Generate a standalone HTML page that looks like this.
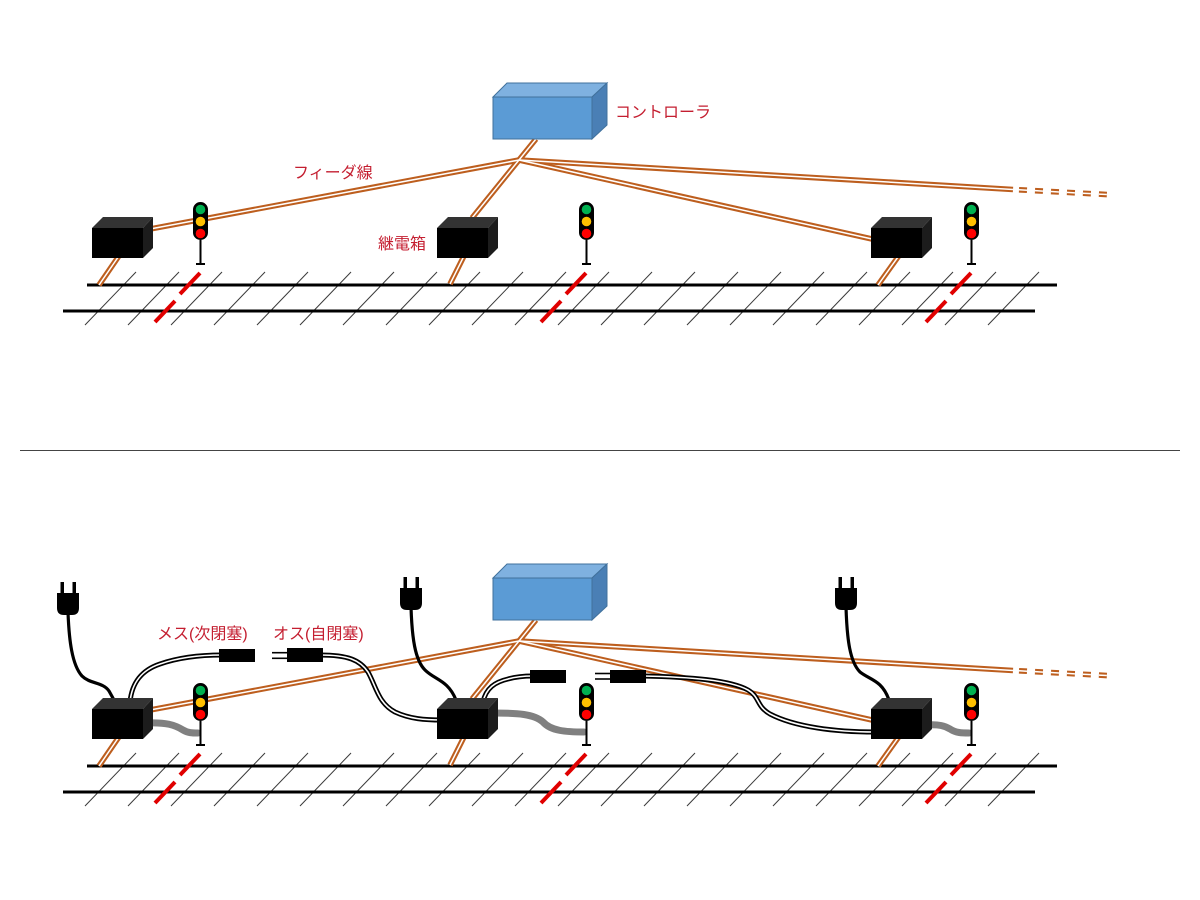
<!DOCTYPE html>
<html><head><meta charset="utf-8"><style>
html,body{margin:0;padding:0;background:#fff;}
svg{display:block;}
text{font-family:"Liberation Sans","Noto Sans CJK JP",sans-serif;font-size:16px;fill:#c41e30;}
</style></head><body>
<svg width="1200" height="900" viewBox="0 0 1200 900" xmlns="http://www.w3.org/2000/svg">
<rect width="1200" height="900" fill="#fff"/>

<!-- ================= TOP DIAGRAM ================= -->
<g>
  <g stroke="#3a3a3a" stroke-width="1">
    <line x1="85" y1="325" x2="136" y2="272"/><line x1="128" y1="325" x2="179" y2="272"/>
    <line x1="171" y1="325" x2="222" y2="272"/><line x1="214" y1="325" x2="265" y2="272"/>
    <line x1="257" y1="325" x2="308" y2="272"/><line x1="300" y1="325" x2="351" y2="272"/>
    <line x1="343" y1="325" x2="394" y2="272"/><line x1="386" y1="325" x2="437" y2="272"/>
    <line x1="429" y1="325" x2="480" y2="272"/><line x1="472" y1="325" x2="523" y2="272"/>
    <line x1="515" y1="325" x2="566" y2="272"/><line x1="558" y1="325" x2="609" y2="272"/>
    <line x1="601" y1="325" x2="652" y2="272"/><line x1="644" y1="325" x2="695" y2="272"/>
    <line x1="687" y1="325" x2="738" y2="272"/><line x1="730" y1="325" x2="781" y2="272"/>
    <line x1="773" y1="325" x2="824" y2="272"/><line x1="816" y1="325" x2="867" y2="272"/>
    <line x1="859" y1="325" x2="910" y2="272"/><line x1="902" y1="325" x2="953" y2="272"/>
    <line x1="945" y1="325" x2="996" y2="272"/><line x1="988" y1="325" x2="1039" y2="272"/>
  </g>
  <line x1="87" y1="285" x2="1057" y2="285" stroke="#000" stroke-width="3"/>
  <line x1="63" y1="311" x2="1035" y2="311" stroke="#000" stroke-width="3"/>
  <g stroke="#e00000" stroke-width="4">
    <line x1="200" y1="273" x2="180" y2="294"/><line x1="175" y1="301" x2="155" y2="322"/>
    <line x1="586" y1="273" x2="566" y2="294"/><line x1="561" y1="301" x2="541" y2="322"/>
    <line x1="971" y1="273" x2="951" y2="294"/><line x1="946" y1="301" x2="926" y2="322"/>
  </g>
  <!-- feeders -->
  <g fill="none" stroke="#bd5e1e" stroke-width="5.6">
    <path d="M536,139 L472,218"/>
    <path d="M519,160 L150,229"/>
    <path d="M519,160 L872,239"/>
    <path d="M519,160 L1013,189.5"/>
    <path d="M123,250 L99,285"/>
    <path d="M466,252 L450,284"/>
    <path d="M903,250 L878,285"/>
    <path d="M1019,189.8 L1108,194.6" stroke-dasharray="8 8"/>
  </g>
  <g fill="none" stroke="#fff" stroke-width="1.5">
    <path d="M536,139 L472,218"/>
    <path d="M519,160 L150,229"/>
    <path d="M519,160 L872,239"/>
    <path d="M519,160 L1013,189.5"/>
    <path d="M123,250 L99,285"/>
    <path d="M466,252 L450,284"/>
    <path d="M903,250 L878,285"/>
    <path d="M1019,189.8 L1108,194.6" stroke-dasharray="8 8"/>
  </g>
  <!-- controller -->
  <g stroke="#41719c" stroke-width="1">
    <rect x="493" y="97" width="99" height="42" fill="#5b9bd5"/>
    <polygon points="493,97 507,83 607,83 592,97" fill="#7fb1e0"/>
    <polygon points="592,97 607,83 607,125 592,139" fill="#4a7fb5"/>
  </g>
  <!-- relay boxes -->
  <g>
    <rect x="92" y="228" width="51" height="30" fill="#000"/>
    <polygon points="92,228 103,217 153,217 143,228" fill="#333"/>
    <polygon points="143,228 153,217 153,248 143,258" fill="#1c1c1c"/>
    <rect x="437" y="228" width="51" height="30" fill="#000"/>
    <polygon points="437,228 448,217 498,217 488,228" fill="#333"/>
    <polygon points="488,228 498,217 498,248 488,258" fill="#1c1c1c"/>
    <rect x="871" y="228" width="51" height="30" fill="#000"/>
    <polygon points="871,228 882,217 932,217 922,228" fill="#333"/>
    <polygon points="922,228 932,217 932,248 922,258" fill="#1c1c1c"/>
  </g>
  <!-- signals -->
  <g>
    <rect x="193" y="202" width="15" height="38" rx="7.5" fill="#000"/>
    <circle cx="200.5" cy="209.5" r="4.8" fill="#00b050"/>
    <circle cx="200.5" cy="221.5" r="4.8" fill="#ffc000"/>
    <circle cx="200.5" cy="233.5" r="4.8" fill="#ff0000"/>
    <line x1="200.5" y1="240" x2="200.5" y2="264" stroke="#000" stroke-width="2"/>
    <line x1="196" y1="264" x2="205" y2="264" stroke="#000" stroke-width="2"/>

    <rect x="579" y="202" width="15" height="38" rx="7.5" fill="#000"/>
    <circle cx="586.5" cy="209.5" r="4.8" fill="#00b050"/>
    <circle cx="586.5" cy="221.5" r="4.8" fill="#ffc000"/>
    <circle cx="586.5" cy="233.5" r="4.8" fill="#ff0000"/>
    <line x1="586.5" y1="240" x2="586.5" y2="264" stroke="#000" stroke-width="2"/>
    <line x1="582" y1="264" x2="591" y2="264" stroke="#000" stroke-width="2"/>

    <rect x="964" y="202" width="15" height="38" rx="7.5" fill="#000"/>
    <circle cx="971.5" cy="209.5" r="4.8" fill="#00b050"/>
    <circle cx="971.5" cy="221.5" r="4.8" fill="#ffc000"/>
    <circle cx="971.5" cy="233.5" r="4.8" fill="#ff0000"/>
    <line x1="971.5" y1="240" x2="971.5" y2="264" stroke="#000" stroke-width="2"/>
    <line x1="967" y1="264" x2="976" y2="264" stroke="#000" stroke-width="2"/>
  </g>
  <text x="615" y="117.5">コントローラ</text>
  <text x="293" y="178">フィーダ線</text>
  <text x="378" y="249">継電箱</text>
</g>

<!-- divider -->
<line x1="20" y1="450.5" x2="1180" y2="450.5" stroke="#444" stroke-width="1"/>

<!-- ================= BOTTOM DIAGRAM ================= -->
<g transform="translate(0,481)">
  <g stroke="#3a3a3a" stroke-width="1">
    <line x1="85" y1="325" x2="136" y2="272"/><line x1="128" y1="325" x2="179" y2="272"/>
    <line x1="171" y1="325" x2="222" y2="272"/><line x1="214" y1="325" x2="265" y2="272"/>
    <line x1="257" y1="325" x2="308" y2="272"/><line x1="300" y1="325" x2="351" y2="272"/>
    <line x1="343" y1="325" x2="394" y2="272"/><line x1="386" y1="325" x2="437" y2="272"/>
    <line x1="429" y1="325" x2="480" y2="272"/><line x1="472" y1="325" x2="523" y2="272"/>
    <line x1="515" y1="325" x2="566" y2="272"/><line x1="558" y1="325" x2="609" y2="272"/>
    <line x1="601" y1="325" x2="652" y2="272"/><line x1="644" y1="325" x2="695" y2="272"/>
    <line x1="687" y1="325" x2="738" y2="272"/><line x1="730" y1="325" x2="781" y2="272"/>
    <line x1="773" y1="325" x2="824" y2="272"/><line x1="816" y1="325" x2="867" y2="272"/>
    <line x1="859" y1="325" x2="910" y2="272"/><line x1="902" y1="325" x2="953" y2="272"/>
    <line x1="945" y1="325" x2="996" y2="272"/><line x1="988" y1="325" x2="1039" y2="272"/>
  </g>
  <line x1="87" y1="285" x2="1057" y2="285" stroke="#000" stroke-width="3"/>
  <line x1="63" y1="311" x2="1035" y2="311" stroke="#000" stroke-width="3"/>
  <g stroke="#e00000" stroke-width="4">
    <line x1="200" y1="273" x2="180" y2="294"/><line x1="175" y1="301" x2="155" y2="322"/>
    <line x1="586" y1="273" x2="566" y2="294"/><line x1="561" y1="301" x2="541" y2="322"/>
    <line x1="971" y1="273" x2="951" y2="294"/><line x1="946" y1="301" x2="926" y2="322"/>
  </g>
  <g fill="none" stroke="#bd5e1e" stroke-width="5.6">
    <path d="M536,139 L472,218"/>
    <path d="M519,160 L150,229"/>
    <path d="M519,160 L872,239"/>
    <path d="M519,160 L1013,189.5"/>
    <path d="M123,250 L99,285"/>
    <path d="M466,252 L450,284"/>
    <path d="M903,250 L878,285"/>
    <path d="M1019,189.8 L1108,194.6" stroke-dasharray="8 8"/>
  </g>
  <g fill="none" stroke="#fff" stroke-width="1.5">
    <path d="M536,139 L472,218"/>
    <path d="M519,160 L150,229"/>
    <path d="M519,160 L872,239"/>
    <path d="M519,160 L1013,189.5"/>
    <path d="M123,250 L99,285"/>
    <path d="M466,252 L450,284"/>
    <path d="M903,250 L878,285"/>
    <path d="M1019,189.8 L1108,194.6" stroke-dasharray="8 8"/>
  </g>
  <!-- controller -->
  <g stroke="#41719c" stroke-width="1">
    <rect x="493" y="97" width="99" height="42" fill="#5b9bd5"/>
    <polygon points="493,97 507,83 607,83 592,97" fill="#7fb1e0"/>
    <polygon points="592,97 607,83 607,125 592,139" fill="#4a7fb5"/>
  </g>
</g>

<!-- bottom extras (absolute coords) -->
<!-- gray cords -->
<g fill="none" stroke="#808080" stroke-width="7" stroke-linecap="round">
  <path d="M146,723 C166,722 175,725 183,730 C188,733 192,733 198,733"/>
  <path d="M492,713 C518,713 534,714 543,722 C551,731 566,732 584,732"/>
  <path d="M926,725 C939,724 945,726 950,729 C956,733 962,733 969,733"/>
</g>
<!-- plug cords -->
<g fill="none" stroke="#000" stroke-width="3.2">
  <path d="M68,612 C69,640 72,665 82,676 C90,684 103,682 109,691 L114,700"/>
  <path d="M411,607 C412,638 415,660 425,670 C435,680 448,680 456,700"/>
  <path d="M846,607 C847,640 850,662 860,672 C870,680 882,680 889,700"/>
</g>
<!-- plugs -->
<g fill="#000">
  <rect x="60.5" y="582" width="3.5" height="11"/><rect x="72.5" y="582" width="3.5" height="11"/>
  <path d="M57,593 H79 V608 Q79,615 72,615 H64 Q57,615 57,608 Z"/>
  <rect x="403.5" y="577" width="3.5" height="11"/><rect x="415.5" y="577" width="3.5" height="11"/>
  <path d="M400,588 H422 V603 Q422,610 415,610 H407 Q400,610 400,603 Z"/>
  <rect x="838.5" y="577" width="3.5" height="11"/><rect x="850.5" y="577" width="3.5" height="11"/>
  <path d="M835,588 H857 V603 Q857,610 850,610 H842 Q835,610 835,603 Z"/>
</g>
<!-- double black cables -->
<g fill="none" stroke="#000" stroke-width="5">
  <path d="M130,702 C132,682 142,670 160,664 C180,657 200,655 222,655"/>
  <path d="M320,655 C348,655 360,660 368,672 C376,686 378,703 395,712 C410,719 425,720 442,720"/>
  <path d="M483,702 C486,688 495,682 508,679 C515,677 522,676 533,676"/>
  <path d="M643,676 C690,677 730,680 748,690 C760,697 756,706 770,714 C795,727 835,732 875,732"/>
</g>
<g fill="none" stroke="#fff" stroke-width="1.6">
  <path d="M130,702 C132,682 142,670 160,664 C180,657 200,655 222,655"/>
  <path d="M320,655 C348,655 360,660 368,672 C376,686 378,703 395,712 C410,719 425,720 442,720"/>
  <path d="M483,702 C486,688 495,682 508,679 C515,677 522,676 533,676"/>
  <path d="M643,676 C690,677 730,680 748,690 C760,697 756,706 770,714 C795,727 835,732 875,732"/>
</g>
<!-- connectors -->
<g fill="#000">
  <rect x="219" y="649" width="36" height="13"/>
  <rect x="287" y="648" width="36" height="14"/>
  <rect x="530" y="670" width="36" height="13"/>
  <rect x="610" y="670" width="36" height="13"/>
</g>
<g stroke="#000" stroke-width="1.6">
  <line x1="272" y1="652.7" x2="288" y2="652.7"/><line x1="272" y1="658.3" x2="288" y2="658.3"/>
  <line x1="595" y1="673.5" x2="611" y2="673.5"/><line x1="595" y1="679" x2="611" y2="679"/>
</g>

<g transform="translate(0,481)">
  <!-- relay boxes -->
  <rect x="92" y="228" width="51" height="30" fill="#000"/>
  <polygon points="92,228 103,217 153,217 143,228" fill="#333"/>
  <polygon points="143,228 153,217 153,248 143,258" fill="#1c1c1c"/>
  <rect x="437" y="228" width="51" height="30" fill="#000"/>
  <polygon points="437,228 448,217 498,217 488,228" fill="#333"/>
  <polygon points="488,228 498,217 498,248 488,258" fill="#1c1c1c"/>
  <rect x="871" y="228" width="51" height="30" fill="#000"/>
  <polygon points="871,228 882,217 932,217 922,228" fill="#333"/>
  <polygon points="922,228 932,217 932,248 922,258" fill="#1c1c1c"/>
  <!-- signals -->
  <rect x="193" y="202" width="15" height="38" rx="7.5" fill="#000"/>
  <circle cx="200.5" cy="209.5" r="4.8" fill="#00b050"/>
  <circle cx="200.5" cy="221.5" r="4.8" fill="#ffc000"/>
  <circle cx="200.5" cy="233.5" r="4.8" fill="#ff0000"/>
  <line x1="200.5" y1="240" x2="200.5" y2="264" stroke="#000" stroke-width="2"/>
  <line x1="196" y1="264" x2="205" y2="264" stroke="#000" stroke-width="2"/>

  <rect x="579" y="202" width="15" height="38" rx="7.5" fill="#000"/>
  <circle cx="586.5" cy="209.5" r="4.8" fill="#00b050"/>
  <circle cx="586.5" cy="221.5" r="4.8" fill="#ffc000"/>
  <circle cx="586.5" cy="233.5" r="4.8" fill="#ff0000"/>
  <line x1="586.5" y1="240" x2="586.5" y2="264" stroke="#000" stroke-width="2"/>
  <line x1="582" y1="264" x2="591" y2="264" stroke="#000" stroke-width="2"/>

  <rect x="964" y="202" width="15" height="38" rx="7.5" fill="#000"/>
  <circle cx="971.5" cy="209.5" r="4.8" fill="#00b050"/>
  <circle cx="971.5" cy="221.5" r="4.8" fill="#ffc000"/>
  <circle cx="971.5" cy="233.5" r="4.8" fill="#ff0000"/>
  <line x1="971.5" y1="240" x2="971.5" y2="264" stroke="#000" stroke-width="2"/>
  <line x1="967" y1="264" x2="976" y2="264" stroke="#000" stroke-width="2"/>
</g>

<text x="157" y="639">メス(次閉塞)</text>
<text x="273" y="639">オス(自閉塞)</text>
</svg>
</body></html>
